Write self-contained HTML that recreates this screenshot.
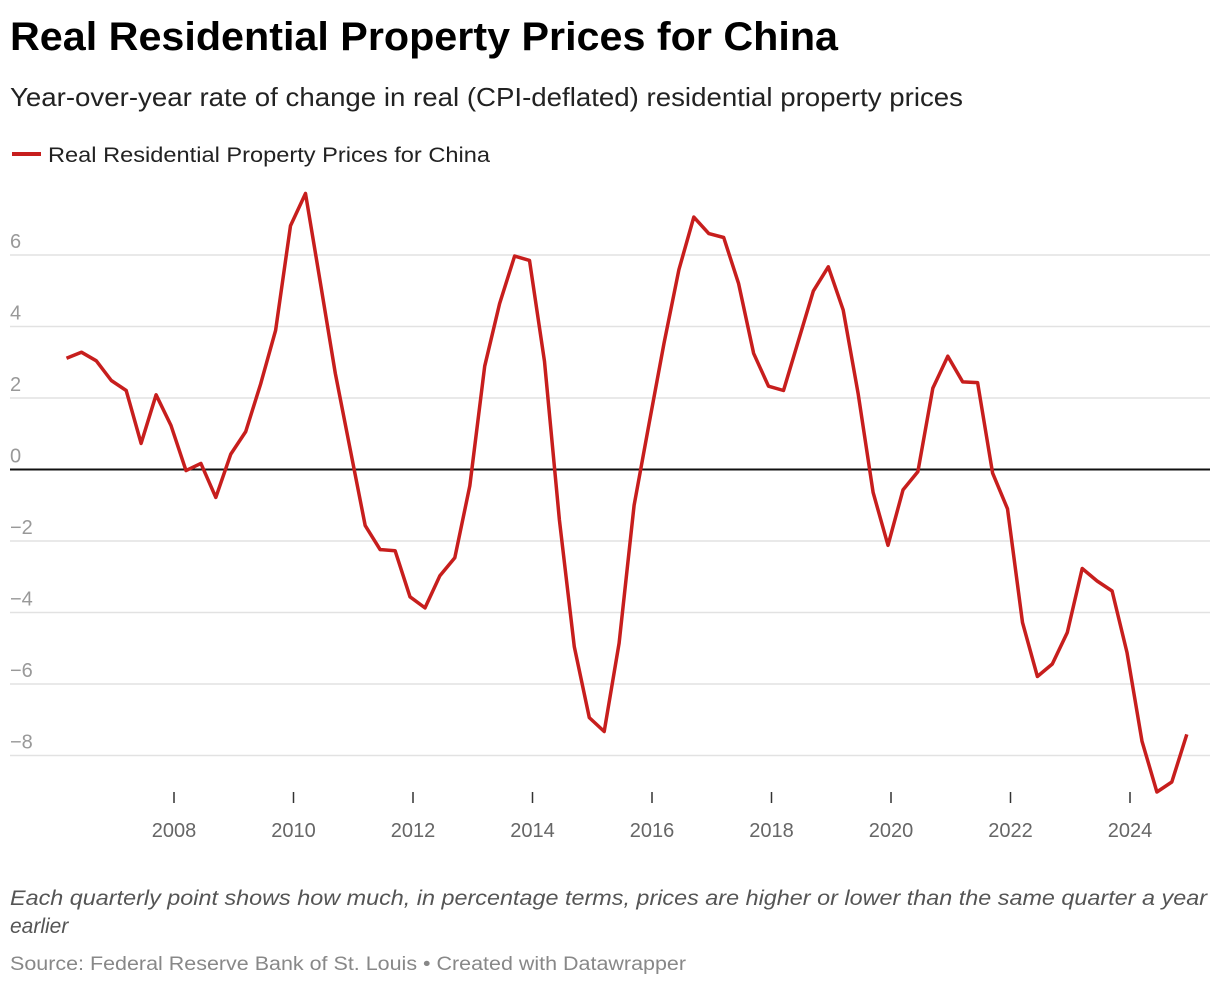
<!DOCTYPE html>
<html><head><meta charset="utf-8"><style>
html,body{margin:0;padding:0;background:#fff;}
svg{display:block;font-family:"Liberation Sans",sans-serif;}
</style></head><body>
<svg id="chart" width="1220" height="986" viewBox="0 0 1220 986">
<text x="10" y="50" font-size="40" font-weight="bold" fill="#000" textLength="828" lengthAdjust="spacingAndGlyphs">Real Residential Property Prices for China</text>
<text x="10" y="106" font-size="26" fill="#222" textLength="953" lengthAdjust="spacingAndGlyphs">Year-over-year rate of change in real (CPI-deflated) residential property prices</text>
<g>
<line x1="12" y1="154" x2="41" y2="154" stroke="#c71e1d" stroke-width="4"/>
<text x="48" y="162" font-size="21" fill="#222" textLength="442" lengthAdjust="spacingAndGlyphs">Real Residential Property Prices for China</text>
</g>
<g id="grid"></g>
<g id="xaxis"></g>
<path id="series" fill="none" stroke="#c71e1d" stroke-width="3.5" stroke-linejoin="round"/>
<text x="10" y="905" font-size="21" font-style="italic" fill="#555" textLength="1197" lengthAdjust="spacingAndGlyphs">Each quarterly point shows how much, in percentage terms, prices are higher or lower than the same quarter a year</text>
<text x="10" y="933" font-size="21" font-style="italic" fill="#555">earlier</text>
<text x="10" y="970" font-size="19" fill="#888" textLength="676" lengthAdjust="spacingAndGlyphs">Source: Federal Reserve Bank of St. Louis • Created with Datawrapper</text>
</svg>
<script>
const startYear = 2006.2;
const values = [3.11,3.28,3.04,2.49,2.21,0.73,2.09,1.23,-0.03,0.17,-0.78,0.43,1.06,2.39,3.89,6.82,7.72,5.22,2.69,0.55,-1.57,-2.24,-2.27,-3.56,-3.87,-2.97,-2.47,
-0.46,2.89,4.64,5.97,5.85,3.02,-1.41,-4.96,-6.94,-7.33,-4.86,-1.00,1.27,3.53,5.59,7.06,6.60,6.49,5.20,3.25,2.33,2.21,3.60,4.99,5.67,4.46,
2.13,-0.64,-2.12,-0.57,-0.06,2.27,3.17,2.45,2.43,-0.10,-1.10,-4.28,-5.79,-5.44,-4.56,-2.77,-3.12,-3.40,-5.12,-7.60,-9.02,-8.74,-7.41];
const yTicks = [6,4,2,0,-2,-4,-6,-8];
const yTickLabels = ["6","4","2","0","\u22122","\u22124","\u22126","\u22128"];
const xTicks = [2008,2010,2012,2014,2016,2018,2020,2022,2024];

const NS = "http://www.w3.org/2000/svg";
function xs(d){ return 174 + (d - 2008) * 59.75; }
function ys(v){ return 469.5 - v * 35.75; }

const grid = document.getElementById('grid');
yTicks.forEach((t,i)=>{
  const l = document.createElementNS(NS,'line');
  l.setAttribute('x1',10); l.setAttribute('x2',1210);
  l.setAttribute('y1',ys(t)); l.setAttribute('y2',ys(t));
  l.setAttribute('stroke', t===0 ? '#111' : '#e2e2e2');
  l.setAttribute('stroke-width', t===0 ? 2 : 1.5);
  
  
  grid.appendChild(l);
  const tx = document.createElementNS(NS,'text');
  tx.setAttribute('x',10); tx.setAttribute('y',ys(t)-7);
  tx.setAttribute('font-size',20); tx.setAttribute('fill','#999');
  tx.textContent = yTickLabels[i];
  
  
  grid.appendChild(tx);
});
const xa = document.getElementById('xaxis');
xTicks.forEach(t=>{
  const l = document.createElementNS(NS,'line');
  l.setAttribute('x1',xs(t)); l.setAttribute('x2',xs(t));
  l.setAttribute('y1',792); l.setAttribute('y2',803);
  l.setAttribute('stroke','#333'); l.setAttribute('stroke-width',1.5);
  
  
  xa.appendChild(l);
  const tx = document.createElementNS(NS,'text');
  tx.setAttribute('x',xs(t)); tx.setAttribute('y',837);
  tx.setAttribute('text-anchor','middle');
  tx.setAttribute('font-size',20); tx.setAttribute('fill','#666');
  tx.textContent = t;
  
  
  xa.appendChild(tx);
});
let d = '';
values.forEach((v,i)=>{
  d += (i ? 'L' : 'M') + xs(startYear + i*0.25).toFixed(1) + ',' + ys(v).toFixed(1);
});
document.getElementById('series').setAttribute('d', d);
</script>
</body></html>
